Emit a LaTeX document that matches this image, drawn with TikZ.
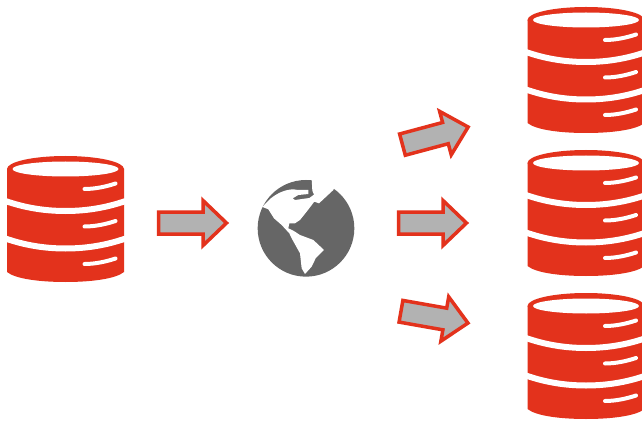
\documentclass[tikz,border=0pt]{standalone}
\definecolor{dbred}{HTML}{E3321C}
\definecolor{arrowgray}{HTML}{B2B2B2}
\definecolor{globegray}{HTML}{666666}
\tikzset{
  x=1pt,y=-1pt,
  gapline/.style={white,line width=6pt},
  shine/.style={white,line width=4pt,line cap=round},
  blockarrow/.style={fill=arrowgray,draw=dbred,line width=3.5pt,miter limit=10},
  database/.pic={
    \fill[dbred] (0,0) ellipse[x radius=58.5,y radius=13];
    \fill[dbred] (-58.5,0) -- (58.5,0)
      -- (58.5,103) .. controls (50,110) and (25,113) .. (0,113)
      .. controls (-25,113) and (-50,110) .. (-58.5,103) -- cycle;
    \fill[white] (0,0) ellipse[x radius=53,y radius=7.5];
    \draw[gapline] (-60,32) .. controls (-40,39) and (-20,42) .. (0,42) .. controls (20,42) and (40,39) .. (60,32);
    \draw[gapline] (-60,69.5) .. controls (-40,76.5) and (-20,79.5) .. (0,79.5) .. controls (20,79.5) and (40,76.5) .. (60,69.5);
    \foreach \d in {0,37.5,75}{
      \draw[shine] (19,20+\d) .. controls (30,20+\d) and (41,17.5+\d) .. (50,14.5+\d);
    }
  },
  flowarrow/.pic={
    \draw[blockarrow] (1.5,-11) -- (46,-11) -- (46,-22.5) -- (69.5,0) -- (46,22.5) -- (46,11) -- (1.5,11) -- cycle;
  }
}
\begin{document}
\begin{tikzpicture}
\useasboundingbox (0,0) rectangle (642,422);
\clip (0,0) rectangle (642,422);
\fill[white] (0,0) rectangle (642,422);
\pic (source) at (65.5,169) {database};
\pic (targetA) at (586,20) {database};
\pic (targetB) at (586,163) {database};
\pic (targetC) at (586,306) {database};
\pic (arrowIn) at (157,223) {flowarrow};
\pic (arrowA) [rotate=15] at (401,145) {flowarrow};
\pic (arrowB) at (397,223) {flowarrow};
\pic (arrowC) [rotate=-10] at (399.5,311) {flowarrow};
\begin{scope}[shift={(250,170)},x=0.3333pt,y=-0.3333pt]
\fill[globegray] (168,175) circle[radius=145];
\fill[white] (30,108) -- (38,110) -- (55,92) .. controls (75,72) and (105,58) .. (130,58) -- (145,60) -- (175,60) -- (175,72) -- (145,75) -- (128,85) -- (135,90) -- (178,84) -- (192,74) -- (187,62) -- (185,25) -- (262,25) -- (250,60) -- (207,100) -- (193,95) -- (170,125) -- (150,150) -- (135,160) -- (118,160) -- (115,175) -- (130,182) -- (150,195) -- (190,210) -- (222,240) -- (197,265) -- (185,290) -- (165,312) -- (155,295) -- (150,250) -- (125,205) -- (118,190) -- (95,165) -- (72,145) -- (55,118) -- cycle;
\end{scope}
\end{tikzpicture}
\end{document}
